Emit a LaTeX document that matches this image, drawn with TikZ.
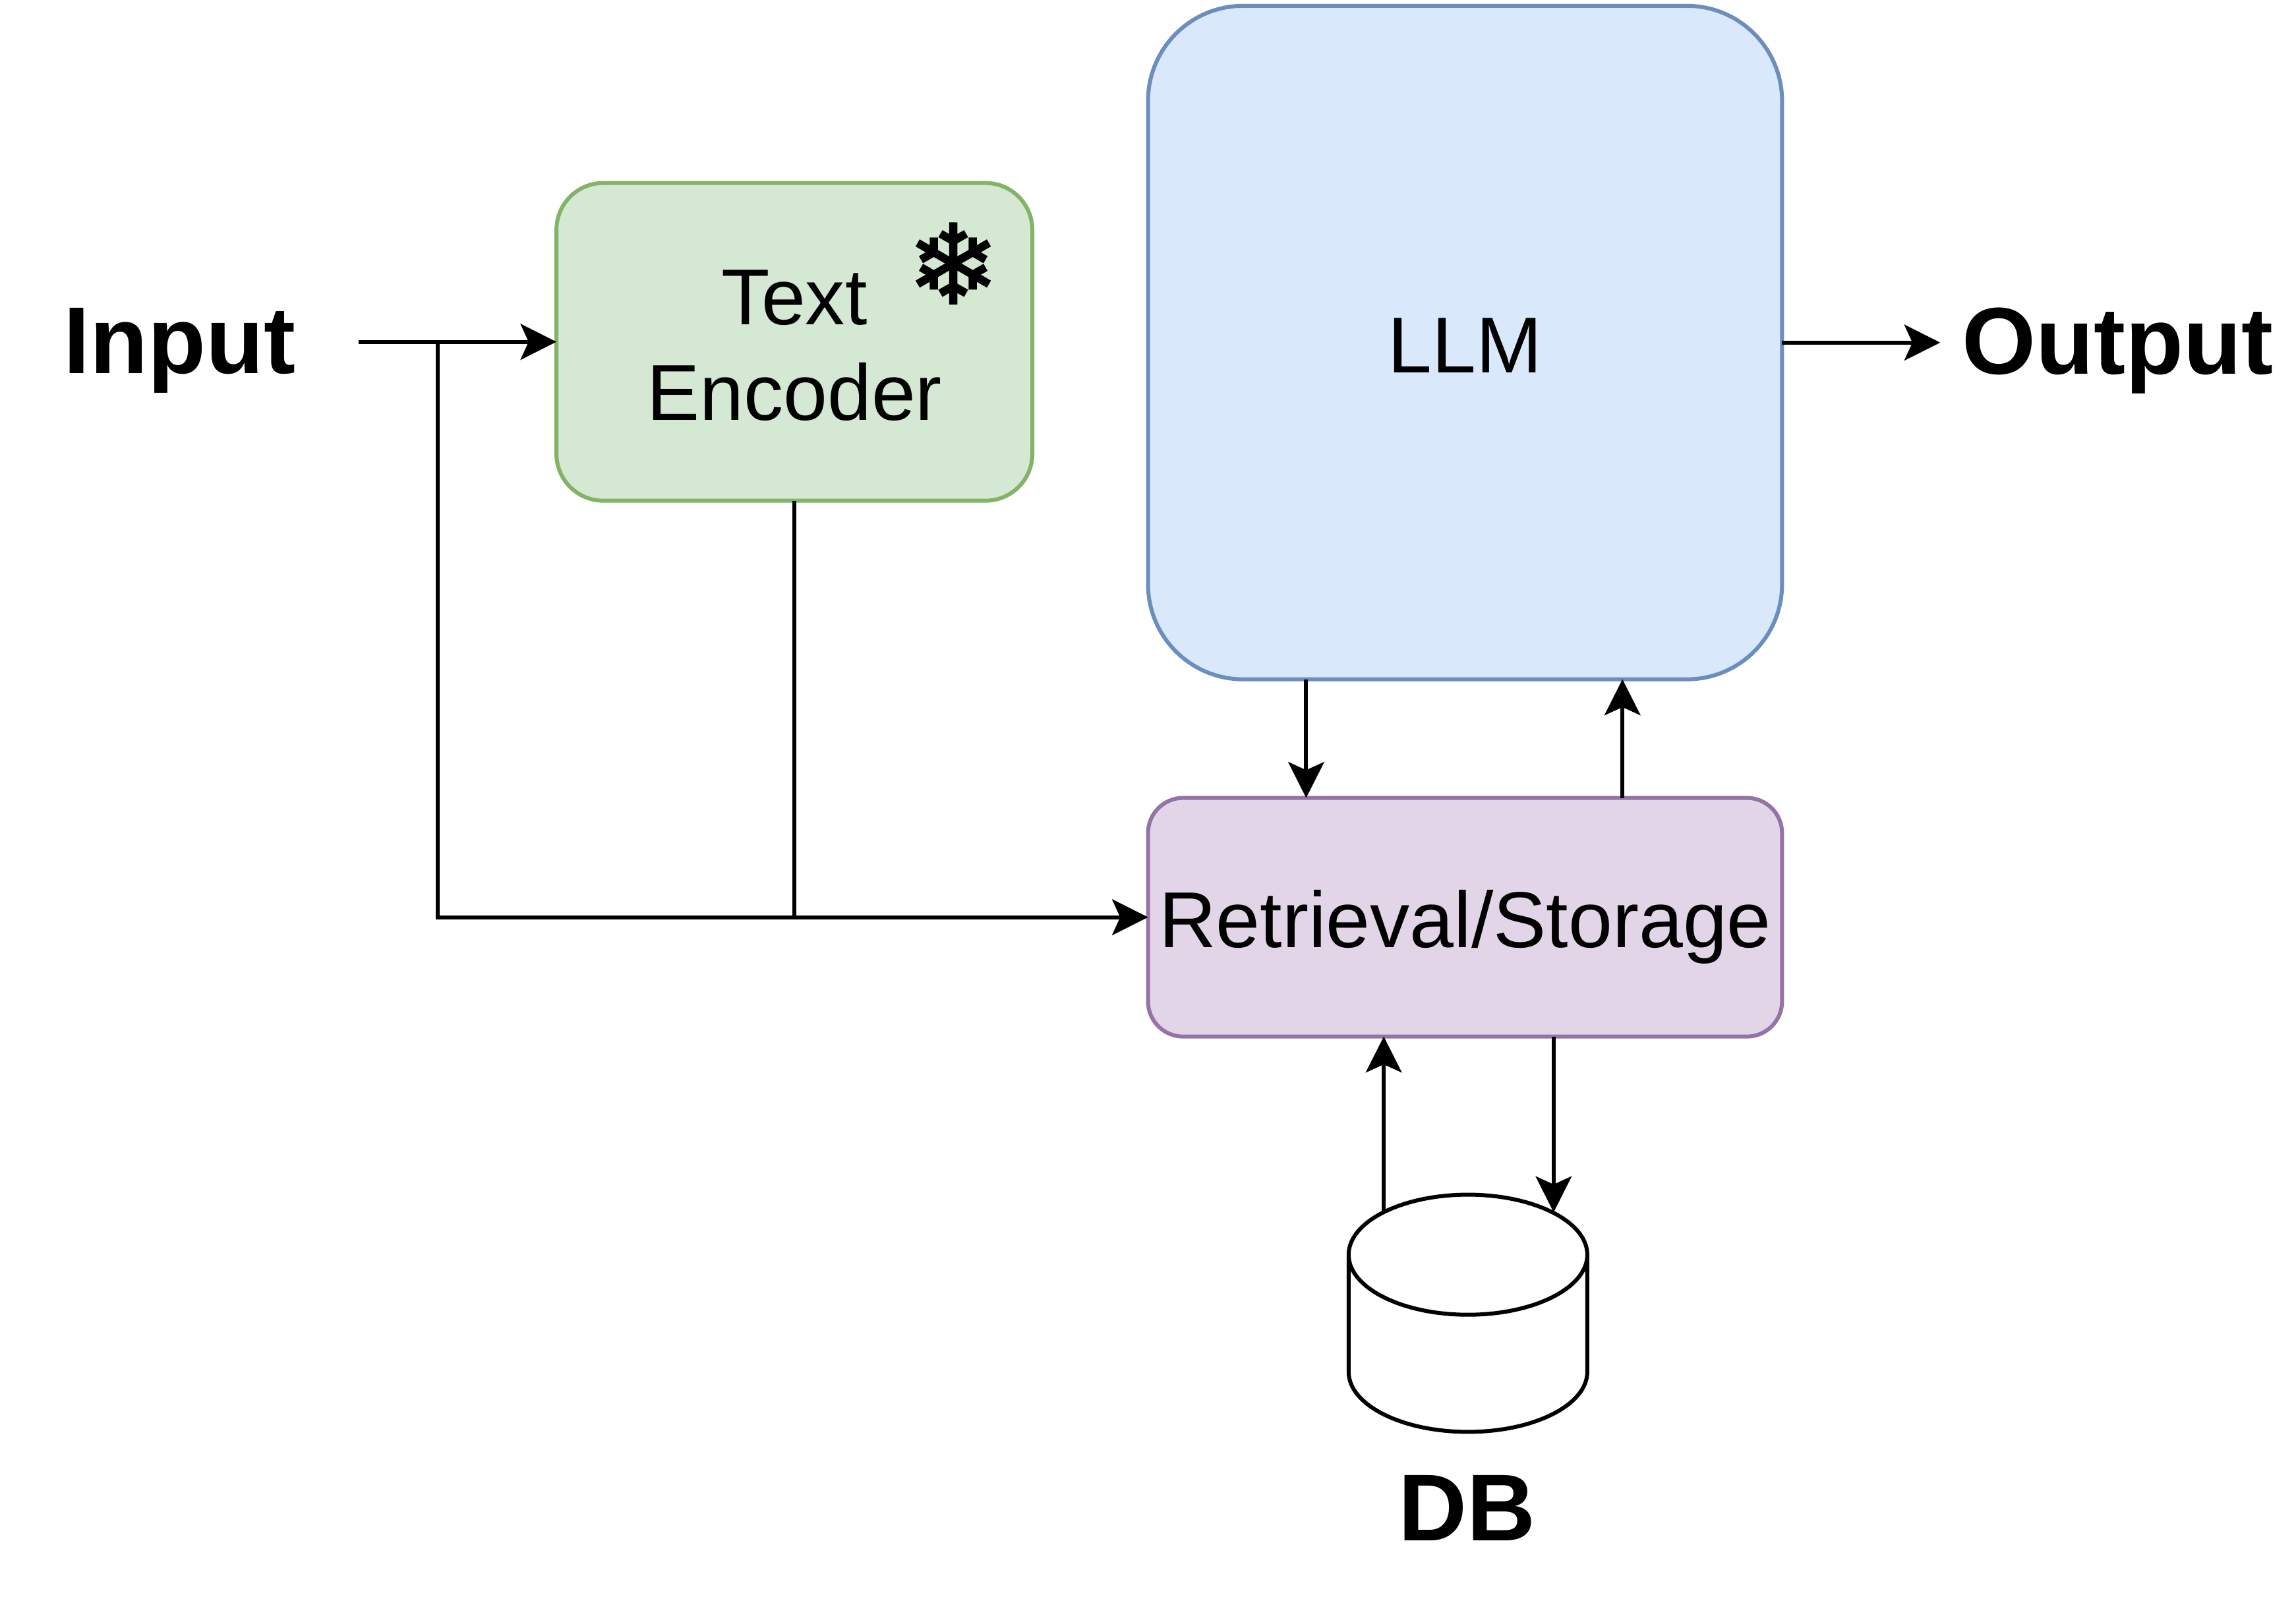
\documentclass[tikz,border=0pt]{standalone}
\usepackage{fontspec}
\setmainfont{Liberation Sans}
\newfontfamily\symbolfont[AutoFakeBold=1.5]{DejaVu Sans}
\usetikzlibrary{arrows.meta}
\tikzset{
  flow/.style={line width=0.77pt,-{Stealth[length=0.245cm,width=0.245cm,inset=0.055cm]}},
  link/.style={line width=0.77pt},
  block/.style={draw,line width=0.77pt,rounded corners=#1,outer sep=0pt,inner sep=0pt,align=center,font=\fontsize{15.4}{18.5}\selectfont},
  tag/.style={font=\fontsize{18.45}{22}\selectfont\bfseries,inner sep=0pt},
  dbend/.style={x radius=0.815cm,y radius=0.41cm}
}
\definecolor{encfill}{HTML}{D5E8D4}
\definecolor{encline}{HTML}{82B366}
\definecolor{llmfill}{HTML}{DAE8FC}
\definecolor{llmline}{HTML}{6C8EBF}
\definecolor{storefill}{HTML}{E1D5E7}
\definecolor{storeline}{HTML}{9673A6}
\begin{document}
\begin{tikzpicture}
    \useasboundingbox (0,0) rectangle (15.68,10.921);
    % blocks
    \node[block=0.32cm,fill=encfill,draw=encline,minimum width=3.25cm,minimum height=2.17cm,text height=30.4pt,text depth=0pt] (encoder) at (5.425,8.586) {Text\\Encoder};
    \node[block=0.65cm,fill=llmfill,draw=llmline,minimum width=4.33cm,minimum height=4.6cm,text height=11.8pt,text depth=0pt] (llm) at (10.005,8.581) {LLM};
    \node[block=0.24cm,fill=storefill,draw=storeline,minimum width=4.33cm,minimum height=1.63cm,text height=11.8pt,text depth=0pt] (store) at (10.005,4.656) {Retrieval/Storage};
    \node[font=\symbolfont\bfseries\fontsize{21.5}{22}\selectfont,inner sep=0pt] (snow) at (6.51,9.121) {❄};
    % database
    \node[minimum width=1.63cm,minimum height=1.62cm,inner sep=0pt,outer sep=0pt] (db) at (10.025,1.951) {};
    \draw[link] ([yshift=-0.41cm]db.north west) -- ([yshift=0.41cm]db.south west) arc[start angle=180,end angle=360,dbend] -- ([yshift=-0.41cm]db.north east) arc[start angle=0,end angle=180,dbend] arc[start angle=180,end angle=360,dbend];
    \coordinate (dbout) at (9.45,2.641);
    \coordinate (dbin) at (10.61,2.641);
    % labels
    \node[tag] (input) at (1.225,8.525) {Input};
    \node[tag] (output) at (14.46,8.525) {Output};
    \node[tag] (dblabel) at (10.02,0.621) {DB};
    % connectors
    \coordinate (start) at (2.45,8.586);
    \coordinate (split) at (2.99,8.586);
    \draw[flow] (start) -- (encoder.west);
    \draw[flow] (split) |- (store.west);
    \draw[link] (encoder.south) -- (encoder.south |- store.west);
    \coordinate (llmout) at (13.25,8.581);
    \draw[flow] (llm.east) -- (llmout);
    \draw[flow] (llm.south -| 8.92,0) -- (store.north -| 8.92,0);
    \draw[flow] (store.north -| 11.08,0) -- (llm.south -| 11.08,0);
    \draw[flow] (dbout) -- (store.south -| dbout);
    \draw[flow] (store.south -| dbin) -- (dbin);
\end{tikzpicture}
\end{document}
